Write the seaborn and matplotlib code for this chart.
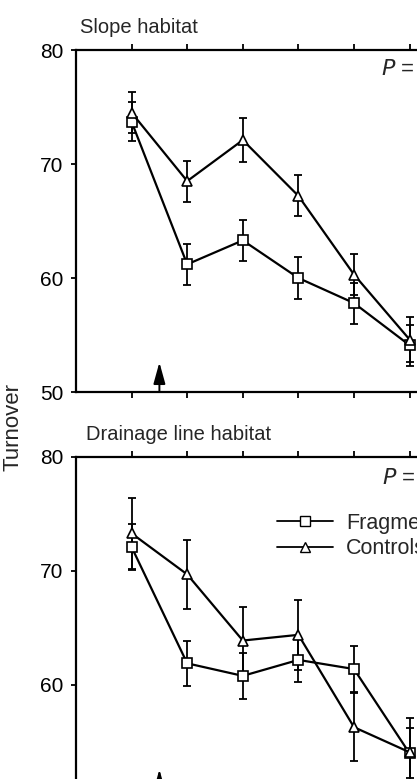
import numpy as np
import pandas as pd
import seaborn as sns
from matplotlib import pyplot as plt
from matplotlib.lines import Line2D

# sampling occasions (arrow marks fragmentation between 1 and 2)
occasions = [1, 2, 3, 4, 5, 6]

# slope habitat
slope_frag = [73.7, 61.2, 63.3, 60.0, 57.8, 54.1]
slope_frag_se = [1.7, 1.8, 1.8, 1.8, 1.8, 1.8]
slope_ctrl = [74.5, 68.5, 72.1, 67.2, 60.3, 54.6]
slope_ctrl_se = [1.8, 1.8, 1.9, 1.8, 1.8, 2.0]

# drainage line habitat
drain_frag = [72.1, 61.9, 60.8, 62.2, 61.4, 54.0]
drain_frag_se = [2.0, 2.0, 2.0, 1.9, 2.0, 2.2]
drain_ctrl = [73.3, 69.7, 63.9, 64.4, 56.3, 54.1]
drain_ctrl_se = [3.1, 3.0, 2.9, 3.1, 3.0, 3.0]

labels = ["Fragments", "Controls"]
y_ticks = [50, 60, 70, 80]

sns.set_style("ticks")
plt.rcParams['font.family'] = ['Liberation Sans', 'DejaVu Sans']

W, H = 417, 779
fig = plt.figure(figsize=(W / 100, H / 100), dpi=100)


def px_rect(left, top, bottom, right):
    return [left / W, 1 - bottom / H, (right - left) / W, (bottom - top) / H]


def draw_panel(ax, frag, frag_se, ctrl, ctrl_se, show_legend):
    df = pd.DataFrame({
        "occasion": occasions * 2,
        "turnover": frag + ctrl,
        "treatment": [labels[0]] * 6 + [labels[1]] * 6,
    })
    ax.errorbar(occasions, frag, yerr=frag_se, fmt='none', ecolor='black',
                elinewidth=1.3, capsize=3, capthick=1.3, zorder=2)
    ax.errorbar(occasions, ctrl, yerr=ctrl_se, fmt='none', ecolor='black',
                elinewidth=1.3, capsize=3, capthick=1.3, zorder=2)
    sns.lineplot(data=df, x="occasion", y="turnover", style="treatment",
                 markers={labels[0]: 's', labels[1]: '^'}, dashes=False,
                 color='black', linewidth=1.6, markersize=7.5,
                 markerfacecolor='white', markeredgecolor='black',
                 markeredgewidth=1.2, legend=False, ax=ax, zorder=3)
    ax.set_xlim(0, 7)
    ax.set_ylim(50, 80)
    ax.set_yticks(y_ticks)
    ax.set_xticks(occasions)
    ax.set_xlabel("")
    ax.set_ylabel("")
    for side in ["left", "top", "bottom"]:
        ax.spines[side].set_visible(True)
        ax.spines[side].set_linewidth(1.6)
        ax.spines[side].set_color('black')
    ax.spines["right"].set_visible(False)
    ax.tick_params(axis='x', top=True, bottom=True, direction='out',
                   length=4, width=1.3, labelbottom=False, colors='black')
    ax.tick_params(axis='y', direction='out', length=3.6, width=1.3,
                   pad=5.5, labelsize=15, colors='black')
    ax.annotate("", xy=(1.5, 52.6), xytext=(1.5, 50),
                arrowprops=dict(arrowstyle='-|>,head_length=1.3,head_width=0.36',
                                color='black', lw=1.4, shrinkA=0, shrinkB=0),
                annotation_clip=False)
    if show_legend:
        handles = [
            Line2D([], [], color='black', lw=1.3, marker='s', markersize=7.5,
                   markerfacecolor='white', markeredgecolor='black'),
            Line2D([], [], color='black', lw=1.3, marker='^', markersize=7.5,
                   markerfacecolor='white', markeredgecolor='black'),
        ]
        ax.legend(handles, labels, loc='upper left', bbox_to_anchor=(0.517, 0.837),
                  frameon=False, fontsize=15.5, handlelength=2.6, handletextpad=0.6,
                  labelspacing=0.22, borderpad=0, borderaxespad=0, numpoints=1)


ax1 = fig.add_axes(px_rect(76, 50, 392, 76 + 7 * 55.6))
draw_panel(ax1, slope_frag, slope_frag_se, slope_ctrl, slope_ctrl_se, False)
ax1.text(5.48, 78.3, "$P$ =", fontsize=16, ha='left', va='center')

ax2 = fig.add_axes(px_rect(76, 457, 799, 76 + 7 * 55.6))
draw_panel(ax2, drain_frag, drain_frag_se, drain_ctrl, drain_ctrl_se, True)
ax2.text(5.5, 78.1, "$P$ =", fontsize=16, ha='left', va='center')
# the 50 label of the lower panel falls below the figure edge, as in the reference
ax2.set_yticklabels(["", "60", "70", "80"])

fig.text(80 / W, 1 - 33 / H, "Slope habitat", fontsize=14.5, ha='left', va='baseline')
fig.text(86 / W, 1 - 440 / H, "Drainage line habitat", fontsize=14.5, ha='left', va='baseline')
fig.text(13 / W, 1 - 427 / H, "Turnover", fontsize=16, rotation=90, ha='center', va='center')

fig.savefig("out.png", dpi=100)
